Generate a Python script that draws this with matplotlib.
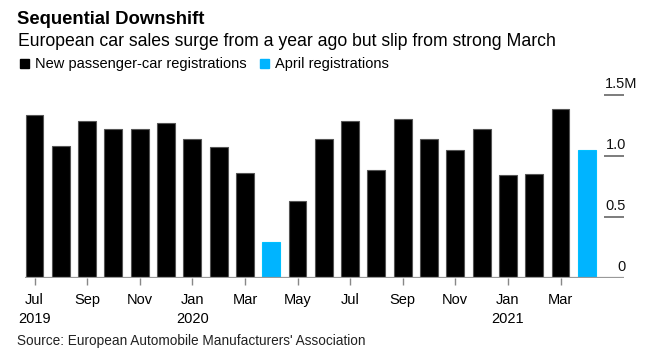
import matplotlib
matplotlib.use("Agg")
import matplotlib.pyplot as plt
import numpy as np

plt.rcParams['font.family'] = ['Liberation Sans', 'DejaVu Sans']

# monthly registrations, millions (Jul 2019 - Apr 2021)
months = ['Jul', 'Aug', 'Sep', 'Oct', 'Nov', 'Dec', 'Jan', 'Feb', 'Mar', 'Apr', 'May', 'Jun',
          'Jul', 'Aug', 'Sep', 'Oct', 'Nov', 'Dec', 'Jan', 'Feb', 'Mar', 'Apr']
years = ['2019', '', '', '', '', '', '2020', '', '', '', '', '',
         '', '', '', '', '', '', '2021', '', '', '']
values = [1.333, 1.08, 1.29, 1.22, 1.22, 1.27, 1.137, 1.07, 0.858, 0.295, 0.629, 1.137,
          1.284, 0.885, 1.30, 1.137, 1.047, 1.22, 0.842, 0.85, 1.388, 1.047]
yticks = [0, 0.5, 1.0, 1.5]
ytick_labels = ['0', '0.5', '1.0', '1.5M']

black = '#000000'
blue = '#00b4ff'

W, H = 662, 355
fig = plt.figure(figsize=(W / 100, H / 100), dpi=100)

# axes placed in pixel terms
left_px, right_px, top_px, base_px = 25, 624, 80, 278
ax = fig.add_axes([left_px / W, 1 - base_px / H, (right_px - left_px) / W, (base_px - top_px) / H])
step = 26.3
c0 = 34.5
ax.set_xlim((left_px - c0) / step, (right_px - c0) / step)
ax.set_ylim(0, (base_px - top_px) / 122.0)

x = np.arange(len(values))
colors = [blue if m == 'Apr' else black for m in months]
edges = ['#00c0ff' if m == 'Apr' else '#555555' for m in months]
ax.bar(x, values, width=0.68, color=colors, edgecolor=edges, linewidth=0.8, zorder=2)

ax.axhline(0, color='#999999', lw=1.6, zorder=3)

# short gridlines on the right with labels above
gx0 = (604 - c0) / step
gx1 = (624 - c0) / step
for t in yticks[1:]:
    ax.hlines(t, gx0, gx1, color='#666666', lw=1.2, clip_on=False)
for t, lab in zip(yticks, ytick_labels):
    xr = (626 - c0) / step if not lab.endswith('M') else (637.5 - c0) / step
    ax.text(xr, t + 0.09, lab, ha='right', va='center', fontsize=10.5, color='#111111')

for s in ax.spines.values():
    s.set_visible(False)
ax.set_yticks([])
tick_pos = x[::2]
ax.set_xticks(tick_pos)
ax.set_xticklabels([months[i] + '\n' + years[i] for i in tick_pos], fontsize=10.5,
                   linespacing=1.45, va='top')
ax.tick_params(axis='x', length=5, width=1, color='#888888', pad=6)


def px(xp, yp):
    return xp / W, 1 - yp / H


fig.text(*px(17, 24), 'Sequential Downshift', fontsize=13.3, fontweight='bold',
         va='baseline', ha='left')
fig.text(*px(18, 46), 'European car sales surge from a year ago but slip from strong March',
         fontsize=12.7, va='baseline', ha='left')

# legend
fig.patches.append(plt.Rectangle(px(20, 68), 8.5 / W, 9 / H, transform=fig.transFigure,
                                 color=black))
fig.text(*px(35, 68), 'New passenger-car registrations', fontsize=10.5, va='baseline')
fig.patches.append(plt.Rectangle(px(260, 68), 8.5 / W, 9 / H, transform=fig.transFigure,
                                 color=blue))
fig.text(*px(275, 68), 'April registrations', fontsize=10.5, va='baseline')

fig.text(*px(17, 345.5), "Source: European Automobile Manufacturers' Association",
         fontsize=9.8, va='baseline', color='#222222')

fig.savefig('out.png', dpi=100)
